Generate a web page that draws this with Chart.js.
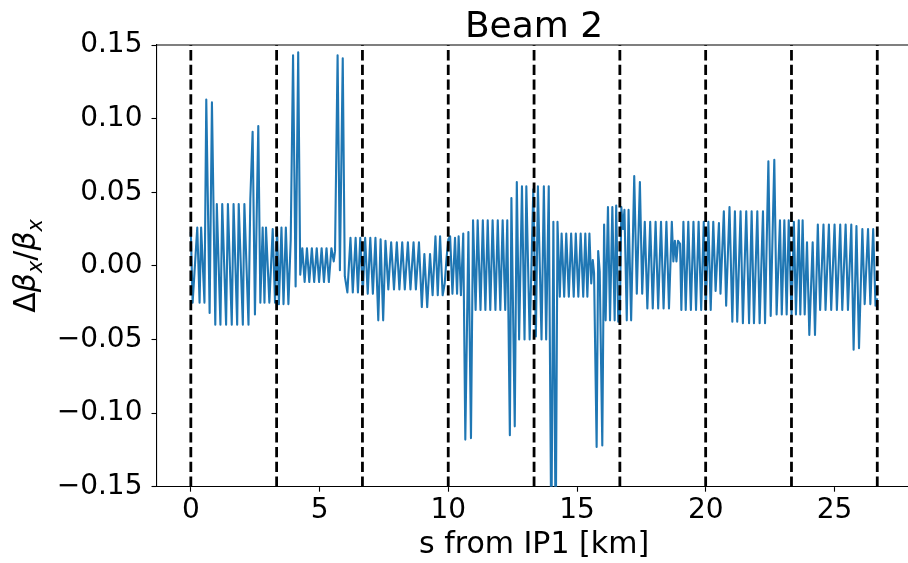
<!DOCTYPE html>
<html lang="en">
<head>
<meta charset="UTF-8">
<title>Beam 2</title>
<script src="https://cdn.jsdelivr.net/npm/chart.js"></script>
<style>
    html, body { margin: 0; padding: 0; background: #fff; overflow: hidden; }
    #wrap { width: 908px; height: 563px; overflow: hidden; }
</style>
</head>
<body>
<div id="wrap"><canvas id="beat" width="920" height="563"></canvas></div>
<script>
// longitudinal position (km) of each point
const sKm = [
    0.00, 0.07, 0.25, 0.34, 0.40, 0.53, 0.60, 0.73, 0.82, 0.95, 1.01, 1.15, 1.22, 1.37, 1.44, 1.59,
    1.66, 1.80, 1.86, 2.02, 2.08, 2.24, 2.31, 2.40, 2.49, 2.62, 2.70, 2.79, 2.86, 2.92, 3.05, 3.18, 3.27,
    3.35, 3.42, 3.52, 3.60, 3.69, 3.79, 3.88, 3.97, 4.07, 4.17, 4.25, 4.33, 4.42, 4.51, 4.60, 4.70,
    4.79, 4.89, 4.98, 5.08, 5.17, 5.27, 5.36, 5.46, 5.55, 5.60, 5.70, 5.79, 5.90, 5.98, 6.08, 6.20,
    6.29, 6.40, 6.49, 6.58, 6.68,
    6.77, 6.87, 6.97, 7.07, 7.17, 7.28, 7.37, 7.47, 7.56, 7.67, 7.78, 7.89, 8.00, 8.10, 8.21, 8.31,
    8.43, 8.53, 8.65, 8.74, 8.86, 8.97, 9.07, 9.18, 9.29, 9.39, 9.50, 9.59, 9.68, 9.78, 9.86, 9.93,
    10.00, 10.07, 10.16, 10.26, 10.34, 10.40, 10.49, 10.58, 10.66, 10.78, 10.88, 10.96, 11.06, 11.14,
    11.25, 11.34, 11.44, 11.53, 11.63, 11.72, 11.83, 11.92, 12.02, 12.11, 12.21, 12.29, 12.39, 12.45,
    12.58, 12.66, 12.75, 12.86, 12.96, 13.03, 13.16, 13.30,
    13.40, 13.48, 13.62, 13.71, 13.80, 13.90, 14.00, 14.08, 14.17, 14.24, 14.33, 14.40, 14.50, 14.58,
    14.68, 14.77, 14.87, 14.95, 15.05, 15.14, 15.24, 15.32, 15.40, 15.48, 15.55, 15.61, 15.66, 15.76,
    15.82, 15.88, 15.98, 16.05, 16.11, 16.20, 16.28, 16.37, 16.46, 16.52, 16.60, 16.66,
    16.72, 16.78, 16.84, 16.93, 17.00, 17.10, 17.22, 17.32, 17.44, 17.53, 17.63, 17.73, 17.84, 17.94,
    18.05, 18.15, 18.26, 18.36, 18.47, 18.57, 18.68, 18.74, 18.80, 18.86, 18.92, 19.00, 19.05, 19.13,
    19.22, 19.32, 19.42, 19.52, 19.62, 19.72, 19.82, 19.92, 20.00,
    20.10, 20.19, 20.29, 20.38, 20.51, 20.57, 20.70, 20.79, 20.92, 21.03, 21.13, 21.22, 21.35, 21.44,
    21.57, 21.68, 21.78, 21.87, 22.00, 22.09, 22.22, 22.30, 22.43, 22.52, 22.66, 22.75, 22.88, 22.95,
    23.05, 23.14, 23.22, 23.33, 23.42, 23.50, 23.61, 23.67, 23.76, 23.84, 23.93, 24.02, 24.15, 24.24,
    24.35, 24.44, 24.57, 24.65, 24.78, 24.87, 25.00, 25.09, 25.22, 25.30, 25.43, 25.52, 25.65, 25.74,
    25.85, 25.95, 26.08, 26.17, 26.30, 26.39, 26.50, 26.59, 26.66
];

// horizontal beta-beating at those positions
const dBeta = [
    0.023, -0.025, 0.026, -0.025, 0.026, -0.025, 0.113, -0.032, 0.111, -0.040, 0.042, -0.040, 0.042, -0.040, 0.042, -0.040,
    0.042, -0.040, 0.042, -0.040, 0.042, -0.040, 0.045, 0.091, -0.033, 0.095, -0.025, 0.026, -0.025, 0.026, -0.025, 0.025, -0.025,
    0.026, -0.026, 0.026, -0.026, 0.026, -0.026, 0.018, 0.143, -0.014, 0.145, -0.006, 0.012, -0.011, 0.012, -0.011, 0.012,
    -0.011, 0.012, -0.011, 0.012, -0.011, 0.012, -0.011, 0.012, 0.003, 0.010, 0.143, -0.003, 0.141, -0.007, -0.018, 0.019,
    -0.018, 0.019, -0.018, 0.019, -0.018,
    0.019, -0.019, 0.019, -0.019, 0.019, -0.037, 0.018, -0.037, 0.017, -0.016, 0.016, -0.016, 0.016, -0.016, 0.016, -0.016,
    0.016, -0.016, 0.016, -0.016, 0.016, -0.028, 0.008, -0.028, 0.008, -0.020, 0.020, -0.020, 0.020, -0.020, -0.012, 0.005,
    0.018, 0.020, -0.019, 0.019, -0.019, 0.020, -0.020, 0.022, -0.118, 0.023, -0.117, 0.031, -0.030, 0.031,
    -0.030, 0.031, -0.030, 0.031, -0.030, 0.031, -0.030, 0.031, -0.030, 0.031, -0.030, 0.031, -0.115, 0.046,
    -0.109, 0.057, -0.050, 0.054, -0.050, 0.054, -0.050, 0.052,
    -0.048, 0.054, -0.050, 0.054, -0.050, 0.054, -0.190, 0.030, -0.190, 0.030, -0.021, 0.022, -0.021, 0.022,
    -0.021, 0.022, -0.021, 0.022, -0.021, 0.022, -0.021, 0.022, -0.021, 0.022, -0.012, 0.004, -0.005, -0.123,
    0.010, -0.004, -0.122, 0.028, -0.037, 0.040, -0.037, 0.040, -0.037, 0.041, -0.038, -0.036,
    0.040, 0.025, 0.038, -0.037, 0.038, -0.037, 0.061, -0.019, 0.057, -0.019, 0.030, -0.029, 0.030, -0.029,
    0.030, -0.029, 0.030, -0.029, 0.030, -0.029, 0.030, 0.003, 0.017, 0.003, 0.017, 0.015, -0.030, 0.030,
    -0.030, 0.030, -0.030, 0.030, -0.030, 0.030, -0.030, 0.030, -0.030,
    0.030, -0.030, 0.030, -0.017, 0.029, -0.019, 0.037, -0.027, 0.040, -0.038, 0.037, -0.038, 0.037, -0.039,
    0.037, -0.039, 0.037, -0.039, 0.037, -0.039, 0.037, -0.039, 0.071, -0.034, 0.072, -0.033, 0.031, -0.033,
    0.031, -0.033, 0.031, -0.033, 0.030, -0.033, 0.031, -0.033, 0.031, -0.033, 0.016, -0.047, 0.016, -0.047,
    0.028, -0.030, 0.028, -0.030, 0.028, -0.030, 0.028, -0.030, 0.028, -0.030, 0.028, -0.030, 0.028, -0.057,
    0.027, -0.056, 0.025, -0.026, 0.025, -0.026, 0.025, -0.027, -0.022
];

// interaction points / octant boundaries (km)
const ipKm = [0, 3.332, 6.665, 9.997, 13.330, 16.662, 19.994, 23.327, 26.659];

const xTicks = [0, 5, 10, 15, 20, 25];
const yTicks = [-0.15, -0.10, -0.05, 0, 0.05, 0.10, 0.15];
const xRange = [-1.333, 27.992];
const yRange = [-0.15, 0.15];

const FONT = "'DejaVu Sans', sans-serif";

const points = sKm.map((s, i) => ({ x: s, y: dBeta[i] }));

const ipLines = ipKm.map(s => ({
    data: [{ x: s, y: yRange[0] }, { x: s, y: yRange[1] }],
    borderColor: '#000',
    borderWidth: 2.8,
    borderDash: [10.3, 4.4],
    pointRadius: 0,
    order: 0
}));

// title, y label with subscripts, and the top spine
const decor = {
    id: 'decor',
    afterDraw(chart) {
        const { ctx, chartArea: a } = chart;
        ctx.save();
        ctx.strokeStyle = '#000';
        ctx.lineWidth = 1.1;
        ctx.beginPath();
        ctx.moveTo(a.left, a.top);
        ctx.lineTo(a.right, a.top);
        ctx.lineTo(a.right, a.bottom);
        ctx.stroke();

        ctx.fillStyle = '#000';
        ctx.font = '36px ' + FONT;
        ctx.textAlign = 'center';
        ctx.textBaseline = 'alphabetic';
        ctx.fillText('Beam 2', (a.left + a.right) / 2, 37);

        // Δβx/βx, rotated
        const F = 30;
        const parts = [
            ['\u0394', '', 0, 1],
            ['\u03b2', 'italic ', 0, 1],
            ['x', 'italic ', 0.22, 0.7],
            ['/', '', 0, 1],
            ['\u03b2', 'italic ', 0, 1],
            ['x', 'italic ', 0.22, 0.7]
        ];
        let total = 0;
        const widths = parts.map(p => {
            ctx.font = p[1] + (F * p[3]) + 'px ' + FONT;
            const w = ctx.measureText(p[0]).width;
            total += w;
            return w;
        });
        ctx.translate(35, (a.top + a.bottom) / 2);
        ctx.rotate(-Math.PI / 2);
        ctx.textAlign = 'left';
        let x = -total / 2;
        parts.forEach((p, i) => {
            ctx.font = p[1] + (F * p[3]) + 'px ' + FONT;
            ctx.fillText(p[0], x, p[2] * F);
            x += widths[i];
        });
        ctx.restore();
    }
};

new Chart(document.getElementById('beat'), {
    type: 'line',
    data: {
        datasets: [
            ...ipLines,
            {
                data: points,
                borderColor: '#1f77b4',
                borderWidth: 2.1,
                borderJoinStyle: 'round',
                pointRadius: 0,
                tension: 0,
                order: 1
            }
        ]
    },
    options: {
        responsive: false,
        animation: false,
        layout: { padding: { top: 45, right: 8.4, bottom: 0, left: 0 } },
        plugins: { legend: { display: false }, tooltip: { enabled: false } },
        scales: {
            x: {
                type: 'linear',
                min: xRange[0],
                max: xRange[1],
                afterFit: s => { s.height = 76.3; },
                afterBuildTicks: s => { s.ticks = xTicks.map(v => ({ value: v })); },
                grid: { drawOnChartArea: false, drawTicks: true, tickLength: 5, tickColor: '#000', tickWidth: 1.1 },
                border: { display: true, color: '#000', width: 1.1 },
                ticks: { color: '#000', font: { family: FONT, size: 28 }, padding: 2, maxRotation: 0, autoSkip: false,
                         callback: v => String(v) },
                title: { display: true, text: 's from IP1 [km]', color: '#000', font: { family: FONT, size: 30 },
                         padding: { top: 0, bottom: 0 } }
            },
            y: {
                type: 'linear',
                min: yRange[0],
                max: yRange[1],
                afterFit: s => { s.width = 156.5; },
                afterBuildTicks: s => { s.ticks = yTicks.map(v => ({ value: v })); },
                grid: { drawOnChartArea: false, drawTicks: true, tickLength: 5, tickColor: '#000', tickWidth: 1.1 },
                border: { display: true, color: '#000', width: 1.1 },
                ticks: { color: '#000', font: { family: FONT, size: 28 }, padding: 9,
                         callback: v => (v < 0 ? '\u2212' : '') + Math.abs(v).toFixed(2) }
            }
        }
    },
    plugins: [decor]
});
</script>
</body>
</html>
